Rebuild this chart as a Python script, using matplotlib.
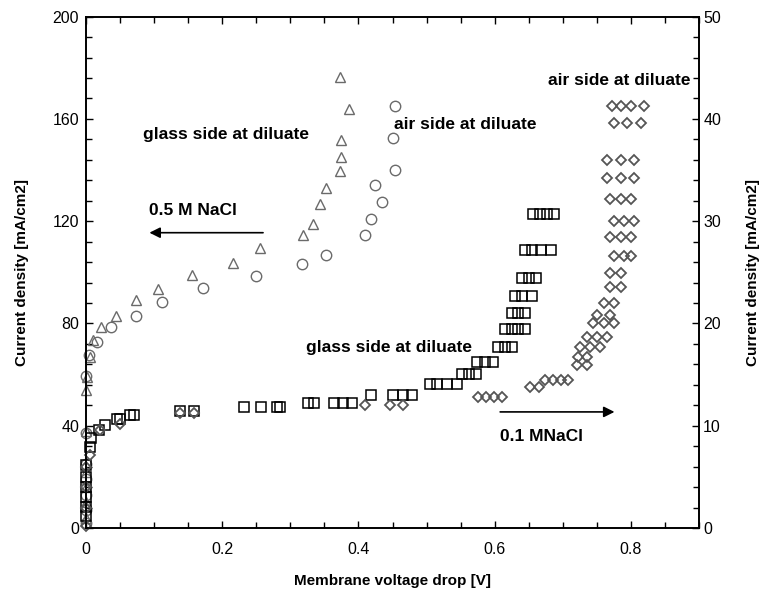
import matplotlib
matplotlib.use("Agg")
import matplotlib.pyplot as plt
from matplotlib.ticker import MultipleLocator

plt.rcParams['font.family'] = ['Liberation Sans', 'DejaVu Sans']

# 0.5 M NaCl (left axis) - glass side at diluate (triangles)
tri_x = [0, 0, 0, 0, 0, 0, 0.001, 0.006, 0.010, 0.022, 0.044, 0.074, 0.106, 0.155,
         0.216, 0.256, 0.318, 0.333, 0.344, 0.353, 0.373, 0.375, 0.375, 0.386, 0.373]
tri_y = [4, 10, 16, 22, 38, 54, 59, 67, 73.5, 78.5, 83, 89, 93.5, 99,
         103.5, 109.4, 114.6, 119, 126.6, 133, 139.6, 145.2, 151.7, 164, 176.5]

# 0.5 M NaCl (left axis) - air side at diluate (circles)
cir_x = [0, 0, 0, 0, 0, 0, 0, 0.005, 0.016, 0.037, 0.074, 0.111, 0.172, 0.249,
         0.317, 0.353, 0.409, 0.418, 0.434, 0.425, 0.454, 0.450, 0.453]
cir_y = [2, 7, 13, 19, 25, 37, 59.4, 67.7, 72.9, 78.7, 83, 88.3, 93.7, 98.5,
         103.1, 106.6, 114.6, 121, 127.5, 134.1, 140, 152.7, 165.2]

# 0.1 M NaCl (right axis) - glass side at diluate (squares)
sq_x = [0, 0, 0, 0, 0, 0, 0.006, 0.008, 0.019, 0.028, 0.045, 0.05, 0.065, 0.07,
        0.138, 0.159, 0.232, 0.257, 0.28, 0.285, 0.326, 0.334, 0.364, 0.378, 0.39,
        0.418, 0.451, 0.466, 0.478,
        0.505, 0.515, 0.530, 0.545,
        0.552, 0.562, 0.573,
        0.574, 0.586, 0.598,
        0.605, 0.615, 0.626,
        0.615, 0.626, 0.634, 0.645,
        0.625, 0.635, 0.645,
        0.630, 0.640, 0.655,
        0.640, 0.650, 0.660,
        0.645, 0.655, 0.668, 0.682,
        0.657, 0.667, 0.677, 0.687]
sq_y = [1.2, 2.1, 3.0, 4.0, 5.0, 6.2, 7.9, 8.8, 9.6, 10.1, 10.7, 10.7, 11.0, 11.0,
        11.4, 11.4, 11.8, 11.8, 11.8, 11.8, 12.2, 12.2, 12.2, 12.2, 12.2,
        13.0, 13.0, 13.0, 13.0,
        14.1, 14.1, 14.1, 14.1,
        15.1, 15.1, 15.1,
        16.2, 16.2, 16.2,
        17.7, 17.7, 17.7,
        19.5, 19.5, 19.5, 19.5,
        21.0, 21.0, 21.0,
        22.7, 22.7, 22.7,
        24.4, 24.4, 24.4,
        27.2, 27.2, 27.2, 27.2,
        30.7, 30.7, 30.7, 30.7]

# 0.1 M NaCl (right axis) - air side at diluate (diamonds)
dia_x = [0, 0, 0, 0, 0.006, 0.02, 0.05, 0.138, 0.159, 0.41, 0.447, 0.466,
         0.576, 0.587, 0.599, 0.611,
         0.652, 0.665,
         0.674, 0.685, 0.697, 0.708,
         0.721, 0.735,
         0.722, 0.735,
         0.725, 0.74, 0.755,
         0.735, 0.75, 0.765,
         0.745, 0.76, 0.775,
         0.75, 0.77,
         0.76, 0.775,
         0.77, 0.785,
         0.77, 0.785,
         0.775, 0.79, 0.80,
         0.77, 0.785, 0.80,
         0.775, 0.79, 0.805,
         0.77, 0.785, 0.80,
         0.765, 0.785, 0.805,
         0.765, 0.785, 0.805,
         0.775, 0.795, 0.815,
         0.772, 0.785, 0.80, 0.82]
dia_y = [0.2, 2, 4, 6, 7.1, 9.6, 10.2, 11.2, 11.2, 12.0, 12.0, 12.0,
         12.8, 12.8, 12.8, 12.8,
         13.8, 13.8,
         14.5, 14.5, 14.5, 14.5,
         15.9, 15.9,
         16.7, 16.7,
         17.7, 17.7, 17.7,
         18.7, 18.7, 18.7,
         20.0, 20.0, 20.0,
         20.8, 20.8,
         22.0, 22.0,
         23.6, 23.6,
         24.9, 24.9,
         26.6, 26.6, 26.6,
         28.5, 28.5, 28.5,
         30.0, 30.0, 30.0,
         32.2, 32.2, 32.2,
         34.2, 34.2, 34.2,
         36.0, 36.0, 36.0,
         39.6, 39.6, 39.6,
         41.3, 41.3, 41.3, 41.3]

x_ticks = [0, 0.2, 0.4, 0.6, 0.8]
left_ticks = [0, 40, 80, 120, 160, 200]
right_ticks = [0, 10, 20, 30, 40, 50]

fig = plt.figure(figsize=(7.6, 5.98), dpi=100)
ax = fig.add_axes([0.1132, 0.1171, 0.8065, 0.855])
ax2 = ax.twinx()

grey = '#6a6a6a'
dgrey = '#555555'
ax.plot(tri_x, tri_y, linestyle='none', marker='^', ms=7.5, mfc='none', mec=grey, mew=1.0, clip_on=False)
ax.plot(cir_x, cir_y, linestyle='none', marker='o', ms=7.5, mfc='none', mec=grey, mew=1.0, clip_on=False)
ax2.plot(sq_x, sq_y, linestyle='none', marker='s', ms=7, mfc='none', mec='black', mew=1.1, clip_on=False)
ax2.plot(dia_x, dia_y, linestyle='none', marker='D', ms=5.5, mfc='none', mec=dgrey, mew=1.3, clip_on=False)

ax.set_xlim(0, 0.9)
ax.set_ylim(0, 200)
ax2.set_ylim(0, 50)

ax.set_xticks(x_ticks)
ax.set_xticklabels(['0', '0.2', '0.4', '0.6', '0.8'])
ax.xaxis.set_minor_locator(MultipleLocator(0.05))
ax.set_yticks(left_ticks)
ax.yaxis.set_minor_locator(MultipleLocator(8))
ax2.set_yticks(right_ticks)
ax2.yaxis.set_minor_locator(MultipleLocator(2))

for a in (ax, ax2):
    a.tick_params(which='both', direction='in', labelsize=11.5, width=1)
    a.tick_params(which='major', length=5)
    a.tick_params(which='minor', length=4)
    for s in a.spines.values():
        s.set_linewidth(1.2)
ax.tick_params(axis='x', which='both', top=True, labeltop=False, pad=10)
ax.tick_params(axis='y', which='both', pad=5)
ax2.tick_params(axis='y', which='both', pad=3)

ax.set_xlabel('Membrane voltage drop [V]', fontsize=11, fontweight='bold', labelpad=12)
ax.set_ylabel('Current density [mA/cm2]', fontsize=11, fontweight='bold', labelpad=17)
ax2.set_ylabel('Current density [mA/cm2]', fontsize=11, fontweight='bold', labelpad=18)

tkw = dict(fontsize=12.5, fontweight='bold', va='center')
ax.text(0.084, 154, 'glass side at diluate', ha='left', **tkw)
ax.text(0.452, 158, 'air side at diluate', ha='left', **tkw)
ax.text(0.2217, 124.1, '0.5 M NaCl', ha='right', **tkw)
ax.text(0.566, 70.7, 'glass side at diluate', ha='right', **tkw)
ax.text(0.608, 35.6, '0.1 MNaCl', ha='left', **tkw)
ax.text(0.887, 175.2, 'air side at diluate', ha='right', **tkw)

ax.annotate('', xy=(0.089, 115.5), xytext=(0.264, 115.5),
            arrowprops=dict(arrowstyle='-|>', color='black', lw=1.2, mutation_scale=16))
ax.annotate('', xy=(0.78, 45.4), xytext=(0.604, 45.4),
            arrowprops=dict(arrowstyle='-|>', color='black', lw=1.2, mutation_scale=16))

fig.savefig('out.png', dpi=100)
